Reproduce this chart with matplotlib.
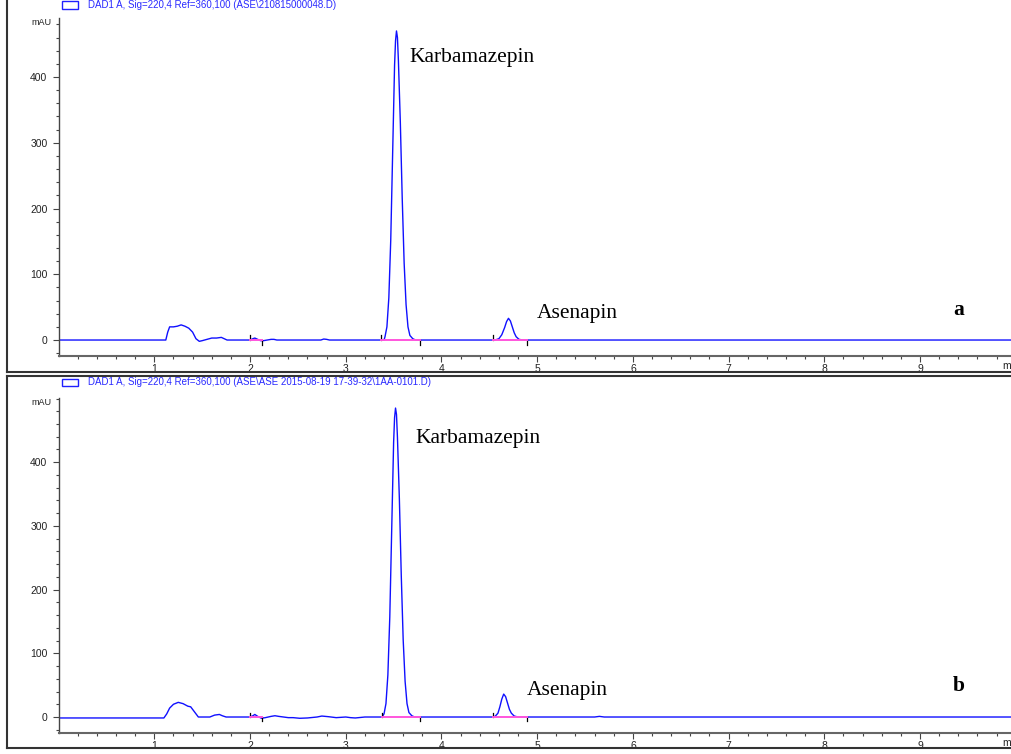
import numpy as np
import matplotlib.pyplot as plt
from matplotlib.lines import Line2D
from matplotlib.patches import Rectangle

# chromatogram a  (time in min, signal in mAU)
t_a = [0, 1.12, 1.14, 1.16, 1.20, 1.24, 1.28, 1.32, 1.36, 1.40,
       1.435, 1.47, 1.50, 1.55, 1.60, 1.65, 1.70, 1.73, 1.76, 2.00,
       2.03, 2.05, 2.08, 2.11, 2.14, 2.18, 2.22, 2.25, 2.28, 2.74,
       2.77, 2.80, 2.83, 3.40, 3.41, 3.43, 3.45, 3.47, 3.49, 3.51,
       3.52, 3.53, 3.54, 3.55, 3.57, 3.59, 3.61, 3.63, 3.65, 3.67,
       3.70, 3.73, 4.56, 4.60, 4.63, 4.66, 4.68, 4.70, 4.72, 4.74,
       4.76, 4.78, 4.81, 4.85, 9.95]
y_a = [0, 0, 12, 20, 20, 21, 23, 21, 18, 12,
       2, -2, -1, 1, 3, 3, 4, 2, 0, 0,
       2, 3, 1, -1, -1, 0, 1, 1, 0, 0,
       1.5, 1, 0, 0, 5, 20, 64, 152, 285, 418,
       455, 470, 460, 425, 332, 215, 117, 54, 20, 7,
       2, 0, 0, 2, 8, 19, 28, 33, 29, 20,
       11, 5, 1, 0, 0]

# chromatogram b
t_b = [0, 1.10, 1.13, 1.16, 1.20, 1.25, 1.30, 1.35, 1.38, 1.42,
       1.46, 1.50, 1.58, 1.63, 1.68, 1.71, 1.75, 2.00, 2.03, 2.05,
       2.08, 2.12, 2.16, 2.22, 2.26, 2.30, 2.40, 2.45, 2.52, 2.60,
       2.70, 2.75, 2.82, 2.90, 3.00, 3.05, 3.10, 3.20, 3.38, 3.40,
       3.42, 3.44, 3.46, 3.48, 3.50, 3.51, 3.52, 3.53, 3.54, 3.56,
       3.58, 3.60, 3.62, 3.64, 3.66, 3.69, 3.72, 4.53, 4.56, 4.59,
       4.61, 4.63, 4.65, 4.67, 4.69, 4.71, 4.73, 4.76, 4.80, 5.60,
       5.65, 5.70, 9.95]
y_b = [-1.5, -1.5, 5, 14, 20, 23, 21, 17, 16, 8,
       0, 0, 0, 3, 4, 2, 0, 0, 2, 4,
       1, -2, -1, 1, 2, 1, -1, -1, -2, -1.5,
       0, 1.5, 0.5, -1, 0, -1, -1.5, 0, 0, 5,
       21, 66, 157, 294, 431, 470, 485, 475, 439, 343,
       222, 121, 56, 21, 7, 2, 0, 0, 1, 6,
       16, 28, 36, 32, 22, 12, 6, 1.5, 0, 0,
       1, 0, 0]

# integration start / end
int_a = [(2.00, 2.13), (3.37, 3.78), (4.54, 4.89)]
int_b = [(2.00, 2.13), (3.38, 3.78), (4.54, 4.89)]

legend_a = r'DAD1 A, Sig=220,4 Ref=360,100 (ASE\210815000048.D)'
legend_b = r'DAD1 A, Sig=220,4 Ref=360,100 (ASE\ASE 2015-08-19 17-39-32\1AA-0101.D)'

W, H = 1011, 754
fig = plt.figure(figsize=(W / 100, H / 100), dpi=100)


def fx(px):
    return px / W


def fy(py):
    return 1 - py / H


panels = [
    dict(t=t_a, y=y_a, ints=int_a, top=18, bot=356, ylim=(-24.3, 489.7), legend=legend_a, legy=5,
         label='a', karb=(3.667, 430), asen=(4.995, 41), lab=(9.40, 46), framey=(-5, 372)),
    dict(t=t_b, y=y_b, ints=int_b, top=398, bot=733, ylim=(-25.1, 500.8), legend=legend_b, legy=382,
         label='b', karb=(3.73, 438), asen=(4.89, 41), lab=(9.40, 49), framey=(376, 748)),
]

serif = 'Liberation Serif'
sans = 'Liberation Sans'

for p in panels:
    ax = fig.add_axes([fx(58.6), fy(p['bot']), 1 - fx(58.6), (p['bot'] - p['top']) / H])
    ax.plot(p['t'], p['y'], color='#1010ff', lw=1.0)
    for s, e in p['ints']:
        ax.plot([s, e], [0, 0], color='#ff55dd', lw=1.4, zorder=3)
        ax.plot([s, s], [0, 7], color='black', lw=0.9)
        ax.plot([e, e], [0, -7], color='black', lw=0.9)
    ax.set_xlim(0, 9.95)
    ax.set_ylim(*p['ylim'])
    ax.set_xticks(np.arange(1, 10))
    ax.set_xticks(np.arange(0.2, 9.95, 0.2), minor=True)
    ax.set_yticks([0, 100, 200, 300, 400])
    ax.set_yticks(np.arange(-20, p['ylim'][1], 20), minor=True)
    ax.tick_params(which='major', length=4, width=0.8, color='#444', labelsize=7.5,
                   labelcolor='#222')
    ax.tick_params(axis='x', which='major', pad=1.5)
    ax.tick_params(axis='y', which='major', pad=4)
    ax.tick_params(which='minor', length=2.5, width=0.8, color='#444')
    for lbl in ax.get_xticklabels() + ax.get_yticklabels():
        lbl.set_family(sans)
    ax.spines['top'].set_visible(False)
    ax.spines['right'].set_visible(False)
    ax.spines['left'].set_color('#444')
    ax.spines['left'].set_linewidth(1.0)
    ax.spines['bottom'].set_color('#666')
    ax.spines['bottom'].set_linewidth(1.5)
    ax.patch.set_alpha(0)

    ax.text(*p['karb'], 'Karbamazepin', family=serif, fontsize=15.5, ha='left', va='center')
    ax.text(*p['asen'], 'Asenapin', family=serif, fontsize=15.5, ha='left', va='center')
    ax.text(*p['lab'], p['label'], family=serif, fontsize=15.5, fontweight='bold',
            ha='center', va='center')

    # header legend
    fig.add_artist(Rectangle((fx(62), fy(p['legy'] + 3.5)), fx(16), 7 / H,
                             fill=False, edgecolor='#2020ff', lw=1.0))
    fig.text(fx(88), fy(p['legy']), p['legend'], family=sans, fontsize=7,
             color='#2a2aff', ha='left', va='center')
    fig.text(fx(52), fy(p['top'] + 4.5), 'mAU', family=sans, fontsize=6.5,
             color='#222', ha='right', va='center')
    fig.text(fx(1002), fy(p['bot'] + 10), 'min', family=sans, fontsize=7.5,
             color='#222', ha='left', va='center')

    # outer frame
    y0, y1 = p['framey']
    fig.add_artist(Line2D([fx(7), fx(7)], [fy(y0), fy(y1)], color='#333', lw=1.5))
    fig.add_artist(Line2D([fx(7), 1], [fy(y1), fy(y1)], color='#333', lw=1.5))
    if y0 > 0:
        fig.add_artist(Line2D([fx(7), 1], [fy(y0), fy(y0)], color='#333', lw=1.5))

fig.savefig('out.png', dpi=100)
